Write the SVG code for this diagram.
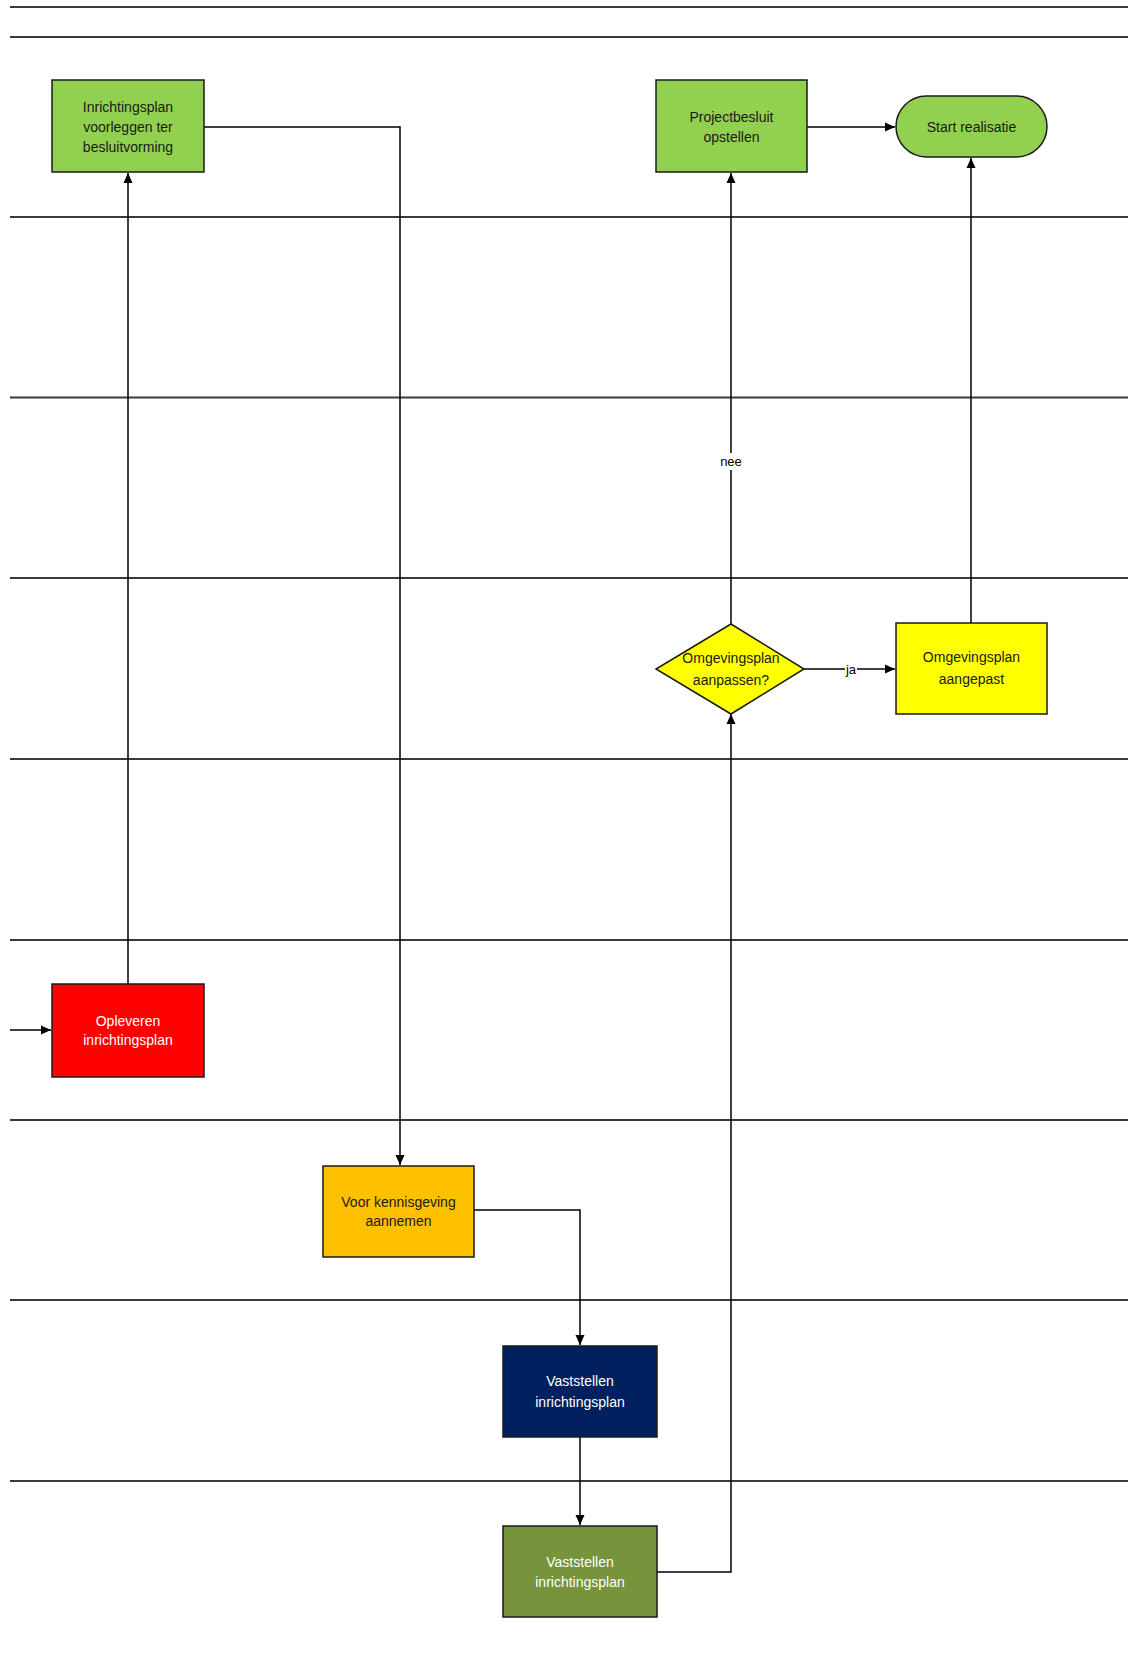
<svg xmlns="http://www.w3.org/2000/svg" width="1128" height="1656" viewBox="0 0 1128 1656">
<style>
.lane{stroke:#3a3a3a;stroke-width:2;fill:none}
.box{stroke:#1a1a1a;stroke-width:1.5}
.t{font-family:"Liberation Sans","Open Sans",sans-serif;font-size:14px;text-anchor:middle;fill:#1a1a1a}
.w{fill:#ffffff}
.c{stroke:#000;stroke-width:1.5;fill:none;marker-end:url(#arr)}
.lbl{font-family:"Liberation Sans","Open Sans",sans-serif;font-size:13px;text-anchor:middle;fill:#000}
</style>
<defs>
<marker id="arr" markerWidth="12" markerHeight="12" refX="10" refY="5" orient="auto" markerUnits="userSpaceOnUse">
<path d="M0,0.5 L10,5 L0,9.5 Z" fill="#000"/>
</marker>
</defs>
<rect width="1128" height="1656" fill="#ffffff"/>
<g id="lanes">
<line class="lane" x1="10" y1="7" x2="1128" y2="7"/>
<line class="lane" x1="10" y1="37" x2="1128" y2="37"/>
<line class="lane" x1="10" y1="217" x2="1128" y2="217"/>
<line class="lane" x1="10" y1="397.5" x2="1128" y2="397.5"/>
<line class="lane" x1="10" y1="578" x2="1128" y2="578"/>
<line class="lane" x1="10" y1="759" x2="1128" y2="759"/>
<line class="lane" x1="10" y1="940" x2="1128" y2="940"/>
<line class="lane" x1="10" y1="1120" x2="1128" y2="1120"/>
<line class="lane" x1="10" y1="1300" x2="1128" y2="1300"/>
<line class="lane" x1="10" y1="1481" x2="1128" y2="1481"/>
</g>
<g id="connectors">
<path class="c" d="M128,984 L128,173"/>
<path class="c" d="M204,127 L400,127 L400,1165"/>
<path class="c" d="M474,1210 L580,1210 L580,1345"/>
<path class="c" d="M580,1437 L580,1525"/>
<path class="c" d="M657,1572 L731,1572 L731,714"/>
<path class="c" d="M731,624 L731,173"/>
<path class="c" d="M804,669 L895,669"/>
<path class="c" d="M971,623 L971,158"/>
<path class="c" d="M807,127 L895,127"/>
<path class="c" d="M10,1030 L51,1030"/>
<rect x="715" y="453" width="32" height="17" fill="#ffffff"/>
<text class="lbl" x="731" y="466">nee</text>
<rect x="845" y="661" width="12" height="17" fill="#ffffff"/>
<text class="lbl" x="851" y="674">ja</text>
</g>
<g id="n1">
<rect class="box" x="52" y="80" width="152" height="92" fill="#92D050"/>
<text class="t" x="128" y="112">Inrichtingsplan</text>
<text class="t" x="128" y="132">voorleggen ter</text>
<text class="t" x="128" y="152">besluitvorming</text>
</g>
<g id="n2">
<rect class="box" x="656" y="80" width="151" height="92" fill="#92D050"/>
<text class="t" x="731.5" y="122">Projectbesluit</text>
<text class="t" x="731.5" y="142">opstellen</text>
</g>
<g id="n3">
<rect class="box" x="896" y="96" width="151" height="61" rx="30.5" ry="30.5" fill="#92D050"/>
<text class="t" x="971.5" y="132">Start realisatie</text>
</g>
<g id="n4">
<polygon class="box" points="731,624 804,669 731,714 656,669" fill="#FFFF00"/>
<text class="t" x="731" y="663">Omgevingsplan</text>
<text class="t" x="731" y="685">aanpassen?</text>
</g>
<g id="n5">
<rect class="box" x="896" y="623" width="151" height="91" fill="#FFFF00"/>
<text class="t" x="971.5" y="662">Omgevingsplan</text>
<text class="t" x="971.5" y="684">aangepast</text>
</g>
<g id="n6">
<rect class="box" x="52" y="984" width="152" height="93" fill="#FF0000"/>
<text class="t w" x="128" y="1026">Opleveren</text>
<text class="t w" x="128" y="1045">inrichtingsplan</text>
</g>
<g id="n7">
<rect class="box" x="323" y="1166" width="151" height="91" fill="#FFC000"/>
<text class="t" x="398.5" y="1207">Voor kennisgeving</text>
<text class="t" x="398.5" y="1226">aannemen</text>
</g>
<g id="n8">
<rect class="box" x="503" y="1346" width="154" height="91" fill="#002060"/>
<text class="t w" x="580" y="1386">Vaststellen</text>
<text class="t w" x="580" y="1407">inrichtingsplan</text>
</g>
<g id="n9">
<rect class="box" x="503" y="1526" width="154" height="91" fill="#77933C"/>
<text class="t w" x="580" y="1567">Vaststellen</text>
<text class="t w" x="580" y="1587">inrichtingsplan</text>
</g>
</svg>
